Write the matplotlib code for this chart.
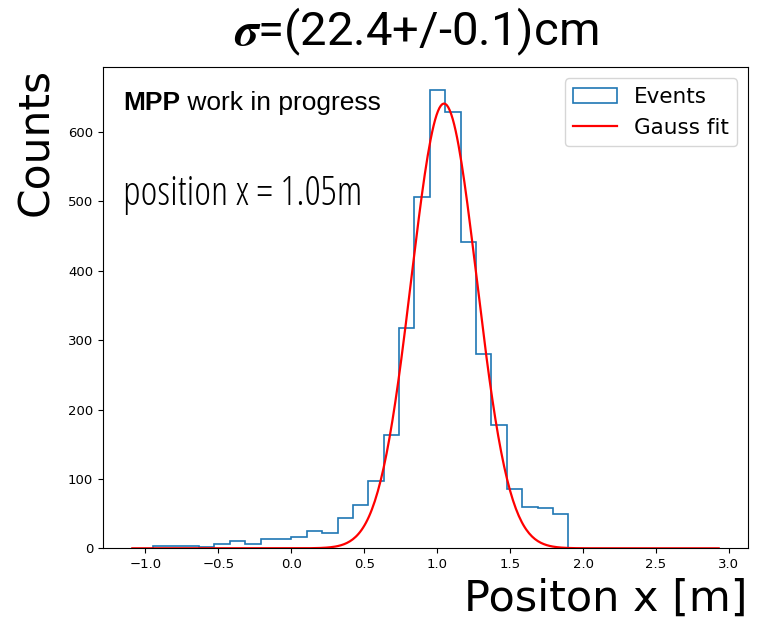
import numpy as np
from matplotlib import pyplot as plt

# histogram (27 bins between -0.95 and 1.90 m)
bin_lo = -0.95
bin_hi = 1.90
counts = [4, 4, 4, 2, 6, 10, 6, 13, 13, 16, 25, 22, 43, 62, 97,
          164, 318, 507, 660, 629, 441, 280, 177, 85, 60, 58, 49]

# gauss fit parameters
fit_amp = 641
fit_mu = 1.047
fit_sigma = 0.224
fit_range = [-1.09, 2.93]

plt.rcParams['mathtext.fontset'] = 'stix'

edges = np.linspace(bin_lo, bin_hi, len(counts) + 1)
centers = 0.5 * (edges[:-1] + edges[1:])

xs = np.linspace(fit_range[0], fit_range[1], 400)
ys = fit_amp * np.exp(-(xs - fit_mu) ** 2 / (2 * fit_sigma ** 2))

fig = plt.figure(figsize=(7.58, 6.19), dpi=100)
ax = fig.add_axes([0.1359, 0.1142, 0.8509, 0.7768])

ax.hist(centers, bins=edges, weights=counts, histtype='step', color='C0', lw=1.2, label='Events')
ax.plot(xs, ys, color='red', lw=1.6, label='Gauss fit')

ax.tick_params(labelsize=9.5)
ax.set_xticks([-1.0, -0.5, 0.0, 0.5, 1.0, 1.5, 2.0, 2.5, 3.0])

ax.set_xlabel('Positon x [m]', fontsize=31, loc='right', labelpad=5)
ax.set_ylabel('Counts', fontsize=30.5, loc='top', labelpad=8)
ax.set_title(r'$\mathbfit{\sigma}$=(22.4+/-0.1)cm', fontsize=34, family='Roboto', pad=16, x=0.485)

# label: bold MPP followed by regular text
t = ax.text(0.031, 0.9116, 'MPP', transform=ax.transAxes,
            fontsize=19, family='Liberation Sans', weight='bold')
ax.annotate(' work in progress', xy=(1, 0), xycoords=t, va='bottom',
            fontsize=19, family='Liberation Sans')
ax.text(0.031, 0.715, 'position x = 1.05m', transform=ax.transAxes,
        fontsize=29, family='Open Sans', stretch='condensed')

ax.legend(loc='upper right', fontsize=15.5)

plt.savefig('out.png')
plt.close()
